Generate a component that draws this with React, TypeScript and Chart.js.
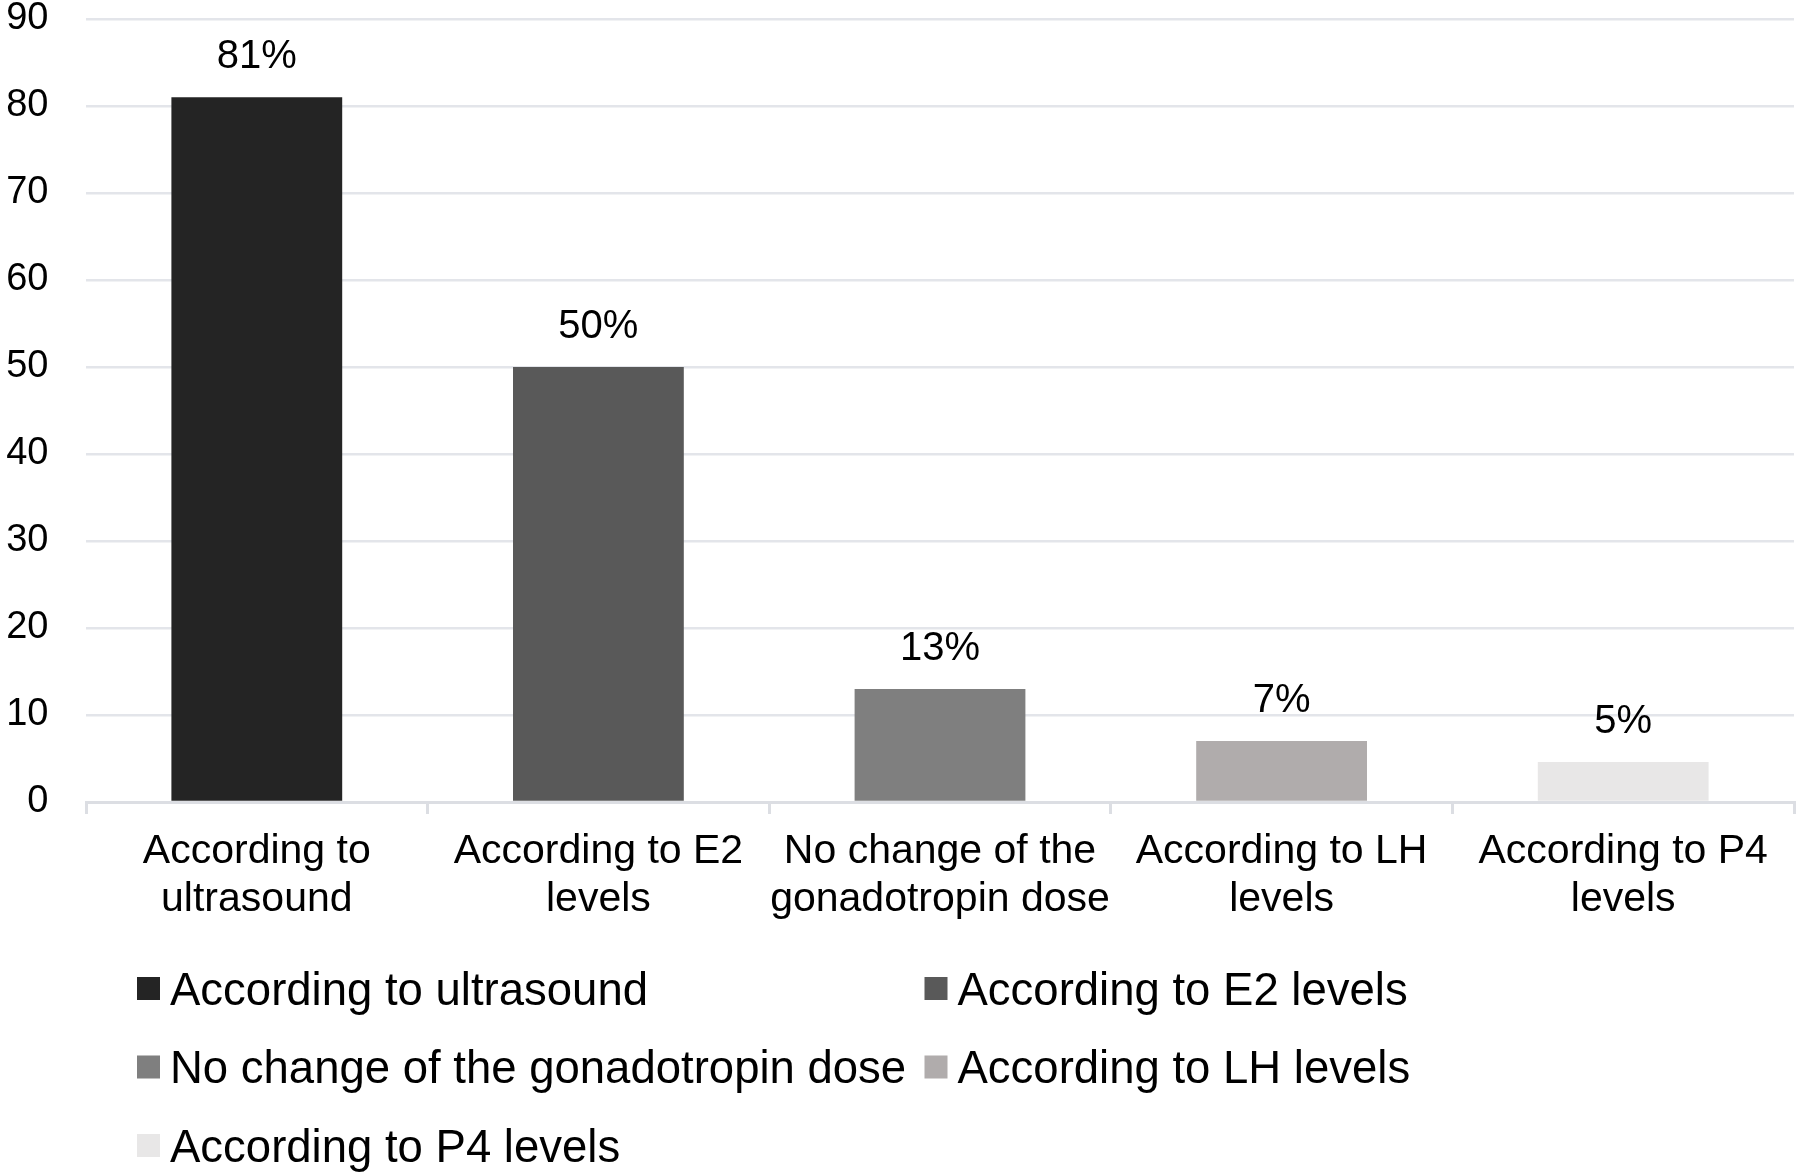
import React, { useEffect, useRef } from 'react';
import { Chart, registerables } from 'chart.js';

Chart.register(...registerables);

const FONT = '"Liberation Sans", Arial, sans-serif';

const categories = [
  'According to ultrasound',
  'According to E2 levels',
  'No change of the gonadotropin dose',
  'According to LH levels',
  'According to P4 levels',
];

// how the category names wrap under the x axis
const tickLabels = [
  ['According to', 'ultrasound'],
  ['According to E2', 'levels'],
  ['No change of the', 'gonadotropin dose'],
  ['According to LH', 'levels'],
  ['According to P4', 'levels'],
];

const values = [81, 50, 13, 7, 4.6];
const valueLabels = ['81%', '50%', '13%', '7%', '5%'];
const barColors = ['#242424', '#595959', '#7f7f7f', '#b0acac', '#e8e7e7'];

const yMin = 0;
const yMax = 90;
const yStep = 10;

const GRID_COLOR = '#e3e5ea';
const AXIS_COLOR = '#dcdee3';

// value labels above each bar
const barLabels = {
  id: 'barLabels',
  afterDatasetsDraw(chart: Chart) {
    const { ctx } = chart;
    const meta = chart.getDatasetMeta(0);
    ctx.save();
    ctx.font = `40px ${FONT}`;
    ctx.fillStyle = '#000';
    ctx.textAlign = 'center';
    ctx.textBaseline = 'alphabetic';
    meta.data.forEach((bar: any, i: number) => {
      ctx.fillText(valueLabels[i], bar.x, bar.y - 29);
    });
    ctx.restore();
  },
};

// two-column legend like the Excel one
const gridLegend = {
  id: 'gridLegend',
  afterDraw(chart: Chart) {
    const { ctx } = chart;
    const colors = chart.data.datasets[0].backgroundColor as string[];
    ctx.save();
    ctx.font = `45.5px ${FONT}`;
    ctx.textAlign = 'left';
    ctx.textBaseline = 'alphabetic';
    categories.forEach((name, i) => {
      const col = i % 2;
      const row = Math.floor(i / 2);
      const x = 137 + col * 787.5;
      const cy = 988.5 + row * 78.5;
      ctx.fillStyle = colors[i];
      ctx.fillRect(x, cy - 11.5, 23, 23);
      ctx.fillStyle = '#000';
      ctx.fillText(name, x + 33, cy + 16);
    });
    ctx.restore();
  },
};

const App: React.FC = () => {
  const chartRef = useRef<HTMLCanvasElement>(null);

  useEffect(() => {
    if (!chartRef.current) return;
    const ctx = chartRef.current.getContext('2d');
    if (!ctx) return;

    const chart = new Chart(ctx, {
      type: 'bar',
      data: {
        labels: tickLabels,
        datasets: [
          {
            label: 'Percent',
            data: values,
            backgroundColor: barColors,
            borderWidth: 0,
            barPercentage: 0.5,
            categoryPercentage: 1,
          },
        ],
      },
      options: {
        responsive: false,
        animation: false,
        devicePixelRatio: 1,
        layout: {
          padding: { left: 0, right: 3, top: 0, bottom: 251 },
        },
        plugins: {
          legend: { display: false },
          tooltip: { enabled: false },
        },
        scales: {
          x: {
            border: { display: true, color: AXIS_COLOR, width: 3 },
            grid: {
              display: true,
              drawOnChartArea: false,
              drawTicks: true,
              tickLength: 12,
              color: AXIS_COLOR,
              lineWidth: 3,
            },
            ticks: {
              color: '#000',
              padding: 13,
              maxRotation: 0,
              minRotation: 0,
              autoSkip: false,
              font: { family: FONT, size: 41, lineHeight: 1.183 },
            },
            afterFit(scale: any) {
              scale.height = 122;
            },
          },
          y: {
            min: yMin,
            max: yMax,
            border: { display: false },
            grid: {
              color: GRID_COLOR,
              lineWidth: 2.5,
              drawTicks: false,
            },
            ticks: {
              stepSize: yStep,
              color: '#000',
              padding: 37.5,
              font: { family: FONT, size: 38, lineHeight: 1.0 },
            },
            afterFit(scale: any) {
              scale.width = 86;
              scale.paddingTop = 19;
              scale.paddingBottom = 0;
            },
          },
        },
      },
      plugins: [barLabels, gridLegend],
    });

    return () => {
      chart.destroy();
    };
  }, []);

  return (
    <div style={{ position: 'absolute', left: 0, top: 0, width: 1797, height: 1175, background: '#fff' }}>
      <canvas ref={chartRef} width={1797} height={1175} />
    </div>
  );
};

export default App;
